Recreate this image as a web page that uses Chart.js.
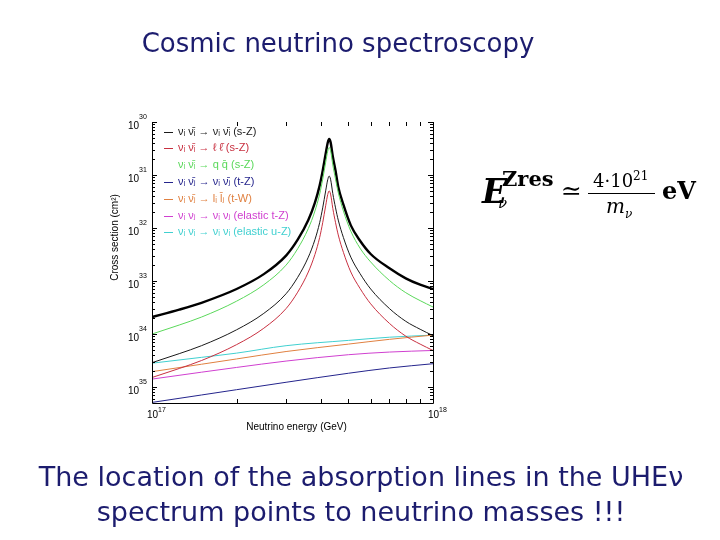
<!DOCTYPE html>
<html>
<head>
<meta charset="utf-8">
<script src="https://cdn.jsdelivr.net/npm/chart.js@4.4.0/dist/chart.umd.min.js"></script>
<style>
  html, body { margin: 0; padding: 0; background: #fff; }
  #wrap { position: relative; width: 720px; height: 540px; overflow: hidden; }
  #c { position: absolute; left: 0; top: 0; }
  .title { position: absolute; left: 0; width: 676px; top: 28px; text-align: center;
           font: 26px "DejaVu Sans", sans-serif; color: #1c1c6e; }
  .caption { position: absolute; left: 0; width: 722px; top: 459px; text-align: center;
             font: 27px/35px "DejaVu Sans", sans-serif; color: #1c1c6e; }
  .f { position: absolute; font-family: "DejaVu Serif", "Liberation Serif", serif; color: #000; white-space: nowrap; }
</style>
</head>
<body>
<div id="wrap">
  <canvas id="c" width="720" height="540"></canvas>
  <div class="title">Cosmic neutrino spectroscopy</div>
  <span class="f" style="left:482px;top:172px;font-size:33px;font-weight:bold;font-style:italic">E</span>
  <span class="f" style="left:502px;top:166px;font-size:21px;font-weight:bold">Zres</span>
  <span class="f" style="left:498px;top:194px;font-size:15px;font-style:italic">ν</span>
  <span class="f" style="left:561px;top:176px;font-size:25px">≃</span>
  <span class="f" style="left:593px;top:169px;font-size:18px">4·10<sup style="font-size:12px">21</sup></span>
  <span class="f" style="left:588px;top:193px;width:67px;height:0;border-top:1px solid #000"></span>
  <span class="f" style="left:606px;top:194px;font-size:20px;font-style:italic">m<sub style="font-size:12px">ν</sub></span>
  <span class="f" style="left:662px;top:176px;font-size:24px;font-weight:bold">eV</span>
  <div class="caption">The location of the absorption lines in the UHEν<br>spectrum points to neutrino masses !!!</div>
</div>
<script>
// energies in units of 1e17 GeV
const energyPeak = [1, 1.25, 1.5, 2, 2.5, 3, 3.3, 3.6, 3.8, 3.95, 4.05, 4.15, 4.22, 4.27, 4.32, 4.4, 4.5, 4.6, 4.8, 5.1, 5.5, 6, 7, 8, 9, 10];
const energyFlat = [1, 1.5, 2, 3, 5, 7, 10];

// log10 of cross section (cm^2)
const totalLog  = [-33.68, -33.54, -33.41, -33.15, -32.87, -32.52, -32.22, -31.85, -31.52, -31.20, -30.92, -30.60, -30.39, -30.32, -30.38, -30.65, -30.92, -31.22, -31.56, -31.95, -32.24, -32.49, -32.76, -32.95, -33.07, -33.15];
const sNuNuLog  = [-34.54, -34.37, -34.22, -33.92, -33.61, -33.24, -32.93, -32.55, -32.22, -31.90, -31.62, -31.30, -31.09, -31.02, -31.08, -31.35, -31.62, -31.85, -32.18, -32.55, -32.86, -33.15, -33.52, -33.76, -33.91, -34.03];
const sLepLog   = [-34.82, -34.65, -34.50, -34.20, -33.89, -33.52, -33.21, -32.83, -32.50, -32.18, -31.90, -31.58, -31.37, -31.30, -31.36, -31.63, -31.90, -32.13, -32.46, -32.83, -33.14, -33.43, -33.80, -34.04, -34.19, -34.31];
const sQuarkLog = [-34.00, -33.83, -33.68, -33.38, -33.07, -32.70, -32.39, -32.01, -31.68, -31.36, -31.08, -30.76, -30.55, -30.48, -30.54, -30.81, -31.08, -31.33, -31.68, -32.06, -32.38, -32.64, -32.99, -33.22, -33.37, -33.49];
const tZLog     = [-35.29, -35.15, -35.05, -34.91, -34.74, -34.64, -34.56];
const tWLog     = [-34.71, -34.57, -34.47, -34.33, -34.19, -34.10, -34.02];
const elTZLog   = [-34.85, -34.72, -34.63, -34.51, -34.39, -34.34, -34.31];
const elUZLog   = [-34.55, -34.44, -34.36, -34.22, -34.12, -34.06, -34.02];

const yTickExps = [-30, -31, -32, -33, -34, -35];
const xTickVals = [1e17, 1e18];
const xMinor = [2, 3, 4, 5, 6, 7, 8, 9];

const bar = "\u0304";
const legendLabels = [
  "νᵢ ν" + bar + "ᵢ → νᵢ ν" + bar + "ᵢ (s-Z)",
  "νᵢ ν" + bar + "ᵢ → ℓ ℓ" + bar + " (s-Z)",
  "νᵢ ν" + bar + "ᵢ → q q" + bar + " (s-Z)",
  "νᵢ ν" + bar + "ⱼ → νᵢ ν" + bar + "ⱼ (t-Z)",
  "νᵢ ν" + bar + "ⱼ → lᵢ l" + bar + "ⱼ (t-W)",
  "νᵢ νⱼ → νᵢ νⱼ (elastic t-Z)",
  "νᵢ νᵢ → νᵢ νᵢ (elastic u-Z)"
];

function pts(es, logs) {
  return es.map((e, i) => ({ x: e * 1e17, y: Math.pow(10, logs[i]) }));
}

function line(label, es, logs, color, width, noLegendLine) {
  return {
    label: label,
    data: pts(es, logs),
    borderColor: color,
    borderWidth: width,
    pointRadius: 0,
    showLine: true,
    fill: false,
    cubicInterpolationMode: "monotone",
    noLegendLine: !!noLegendLine
  };
}

const datasets = [
  line(legendLabels[0], energyPeak, sNuNuLog, "#1a1a1a", 1),
  line(legendLabels[1], energyPeak, sLepLog, "#c83040", 1),
  line(legendLabels[2], energyPeak, sQuarkLog, "#5ad85a", 1, true),
  line(legendLabels[3], energyFlat, tZLog, "#24248c", 1),
  line(legendLabels[4], energyFlat, tWLog, "#e08040", 1),
  line(legendLabels[5], energyFlat, elTZLog, "#d040d0", 1),
  line(legendLabels[6], energyFlat, elUZLog, "#40d0d0", 1),
  line("total", energyPeak, totalLog, "#000000", 2.4)
];

// axes frame, inward ticks, labels and in-plot legend
const framePlugin = {
  id: "framePlugin",
  afterDatasetsDraw(chart) {
    const ctx = chart.ctx;
    const a = chart.chartArea;
    const x = chart.scales.x, y = chart.scales.y;
    ctx.save();
    ctx.strokeStyle = "#000";
    ctx.fillStyle = "#000";
    ctx.lineWidth = 1;

    ctx.beginPath();
    ctx.moveTo(a.left + 0.5, a.top);
    ctx.lineTo(a.left + 0.5, a.bottom + 0.5);
    ctx.lineTo(a.right + 0.5, a.bottom + 0.5);
    ctx.lineTo(a.right + 0.5, a.top);
    ctx.stroke();

    // y ticks
    ctx.beginPath();
    yTickExps.forEach(e => {
      const py = Math.round(y.getPixelForValue(Math.pow(10, e))) + 0.5;
      ctx.moveTo(a.left, py); ctx.lineTo(a.left + 5, py);
      ctx.moveTo(a.right, py); ctx.lineTo(a.right - 5, py);
      for (let m = 2; m <= 9; m++) {
        const v = m * Math.pow(10, e - 1);
        if (v < y.min) continue;
        const pm = Math.round(y.getPixelForValue(v)) + 0.5;
        ctx.moveTo(a.left, pm); ctx.lineTo(a.left + 3, pm);
        ctx.moveTo(a.right, pm); ctx.lineTo(a.right - 3, pm);
      }
    });
    // x ticks
    xMinor.forEach(m => {
      const px = Math.round(x.getPixelForValue(m * 1e17)) + 0.5;
      ctx.moveTo(px, a.bottom); ctx.lineTo(px, a.bottom - 4);
      ctx.moveTo(px, a.top); ctx.lineTo(px, a.top + 4);
    });
    ctx.stroke();

    // tick labels
    ctx.textBaseline = "alphabetic";
    yTickExps.forEach(e => {
      const py = y.getPixelForValue(Math.pow(10, e));
      ctx.textAlign = "right";
      ctx.font = '10px "Liberation Sans", Arial, sans-serif';
      ctx.fillText("10", a.left - 13, py + 6.5);
      ctx.textAlign = "left";
      ctx.font = '7px "Liberation Sans", Arial, sans-serif';
      ctx.fillText(String(-e), a.left - 13, py - 3);
    });
    xTickVals.forEach(v => {
      const px = x.getPixelForValue(v);
      ctx.textAlign = "right";
      ctx.font = '10px "Liberation Sans", Arial, sans-serif';
      ctx.fillText("10", px + 6, a.bottom + 15);
      ctx.textAlign = "left";
      ctx.font = '7px "Liberation Sans", Arial, sans-serif';
      ctx.fillText(String(Math.round(Math.log10(v))), px + 6, a.bottom + 9);
    });

    // axis titles
    ctx.font = '10px "Liberation Sans", Arial, sans-serif';
    ctx.textAlign = "center";
    ctx.fillText("Neutrino energy (GeV)", (a.left + a.right) / 2 + 4, a.bottom + 27);
    ctx.save();
    ctx.translate(118, (a.top + a.bottom) / 2 - 25);
    ctx.rotate(-Math.PI / 2);
    ctx.fillText("Cross section (cm²)", 0, 0);
    ctx.restore();

    // legend inside the plot
    ctx.textAlign = "left";
    ctx.textBaseline = "middle";
    chart.data.datasets.forEach((ds, i) => {
      if (i >= legendLabels.length) return;
      const ry = a.top + 9.5 + i * 16.8;
      if (!ds.noLegendLine) {
        ctx.strokeStyle = ds.borderColor;
        ctx.beginPath();
        ctx.moveTo(a.left + 12, Math.round(ry) + 0.5);
        ctx.lineTo(a.left + 21, Math.round(ry) + 0.5);
        ctx.stroke();
      }
      ctx.fillStyle = ds.borderColor;
      ctx.font = '11px "Liberation Sans", "DejaVu Sans", sans-serif';
      ctx.fillText(ds.label, a.left + 26, ry);
    });
    ctx.restore();
  }
};

new Chart(document.getElementById("c"), {
  type: "scatter",
  data: { datasets: datasets },
  options: {
    responsive: false,
    animation: false,
    devicePixelRatio: 1,
    layout: { padding: { left: 152, right: 287, top: 122, bottom: 137 } },
    scales: {
      x: { type: "logarithmic", min: 1e17, max: 1e18, display: false },
      y: { type: "logarithmic", min: 5e-36, max: 1e-30, display: false }
    },
    plugins: { legend: { display: false }, tooltip: { enabled: false } }
  },
  plugins: [framePlugin]
});
</script>
</body>
</html>
